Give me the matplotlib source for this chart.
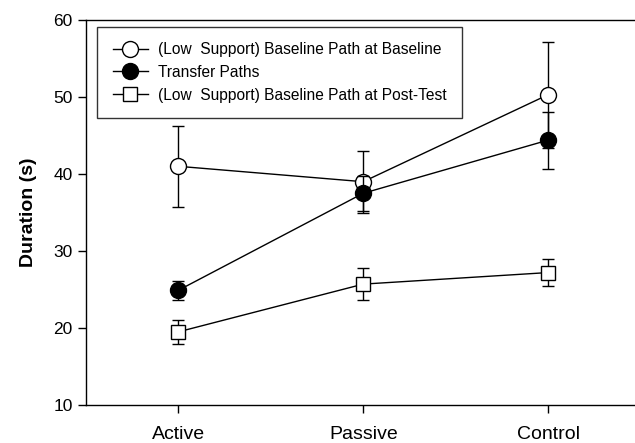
import numpy as np
import matplotlib.pyplot as plt
from matplotlib.lines import Line2D

plt.rcParams['font.family'] = ['Liberation Sans', 'DejaVu Sans']

groups = ['Active', 'Passive', 'Control']
base_at_base = [41.0, 39.0, 50.3]
base_at_base_err = [5.3, 4.0, 6.9]
transfer = [24.9, 37.5, 44.4]
transfer_err = [1.2, 2.3, 3.7]
base_at_post = [19.5, 25.7, 27.2]
base_at_post_err = [1.6, 2.1, 1.8]
labels = ['(Low  Support) Baseline Path at Baseline', 'Transfer Paths',
          '(Low  Support) Baseline Path at Post-Test']

x = np.arange(len(groups))

fig = plt.figure(figsize=(6.35, 4.43), dpi=100)
ax = fig.add_axes([0.1354, 0.0858, 0.8646, 0.869])

common = dict(color='black', lw=1.0, capsize=4.5, elinewidth=1.0, capthick=1.0)
ax.errorbar(x, base_at_base, yerr=base_at_base_err, marker='o', ms=11.5,
            mfc='white', mec='black', mew=1.0, zorder=3, **common)
ax.errorbar(x, transfer, yerr=transfer_err, marker='o', ms=11.5,
            mfc='black', mec='black', mew=1.0, zorder=4, **common)
ax.errorbar(x, base_at_post, yerr=base_at_post_err, marker='s', ms=9.5,
            mfc='white', mec='black', mew=1.0, zorder=3, **common)

ax.set_xlim(-0.5, 2.47)
ax.set_ylim(10, 60)
ax.set_yticks(range(10, 61, 10))
ax.set_xticks(x)
ax.set_xticklabels(groups, fontsize=14)
ax.tick_params(axis='y', labelsize=12.5, direction='out', length=6, width=1)
ax.tick_params(axis='x', direction='out', length=6, width=1, pad=9)
ax.spines['right'].set_visible(False)
for s in ['left', 'top', 'bottom']:
    ax.spines[s].set_linewidth(1.0)
ax.set_ylabel('Duration (s)', fontsize=14, fontweight='bold', labelpad=12)

handles = [
    Line2D([], [], color='black', lw=1.0, marker='o', ms=11.5, mfc='white', mec='black'),
    Line2D([], [], color='black', lw=1.0, marker='o', ms=11.5, mfc='black', mec='black'),
    Line2D([], [], color='black', lw=1.0, marker='s', ms=9.5, mfc='white', mec='black'),
]
leg = ax.legend(handles, labels, loc='upper left', bbox_to_anchor=(0.02, 0.983), fontsize=11.2,
                frameon=True, fancybox=False, edgecolor='black', handlelength=2.3,
                borderpad=1.0, labelspacing=0.5, handletextpad=0.6, borderaxespad=0)
leg.get_frame().set_linewidth(1.0)

fig.savefig('out.png', dpi=100)
